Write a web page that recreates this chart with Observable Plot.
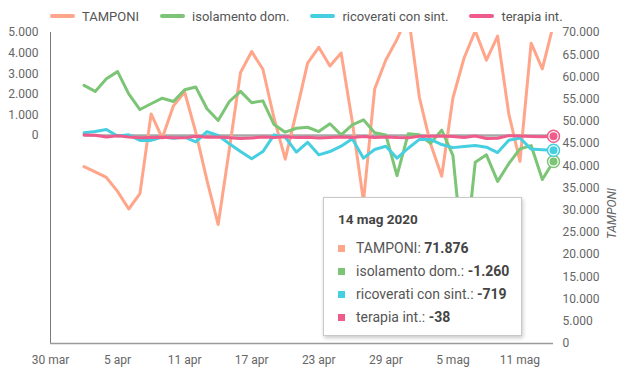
<!DOCTYPE html>
<html><head><meta charset="utf-8">
<script src="https://cdn.jsdelivr.net/npm/d3@7"></script>
<script src="https://cdn.jsdelivr.net/npm/@observablehq/plot@0.6"></script>
<style>
body{margin:0;background:#fff;font-family:Roboto,sans-serif;}
#wrap{position:relative;width:626px;height:380px;overflow:hidden}
#legend{height:16px;padding-top:8px;display:flex;padding-left:50px;gap:21px;align-items:center}
.li{display:flex;align-items:center;font-size:13px;color:#555;height:16px}
.sw{width:25px;height:4px;border-radius:2px;margin-right:7px}
#tip{position:absolute;left:323px;top:197px;width:197px;height:137px;background:#fff;border:1px solid #c9c9c9;box-shadow:1px 2px 4px rgba(0,0,0,0.22);color:#555;font-family:Roboto,sans-serif}
#tip .t{position:absolute;left:14px;top:13px;font-weight:bold;font-size:13.5px;color:#444}
#tip .r{position:absolute;left:14px;display:flex;align-items:center;font-size:14px;height:18px}
#tip .s{width:7px;height:7px;margin-right:11px}
#tip b{color:#444}
</style></head>
<body><div id="wrap"><div id="legend"></div><div id="chart"></div><div id="tip"></div></div>
<script>
const dates = ["2020-04-02","2020-04-03","2020-04-04","2020-04-05","2020-04-06","2020-04-07","2020-04-08","2020-04-09","2020-04-10","2020-04-11",
"2020-04-12","2020-04-13","2020-04-14","2020-04-15","2020-04-16","2020-04-17","2020-04-18","2020-04-19","2020-04-20","2020-04-21",
"2020-04-22","2020-04-23","2020-04-24","2020-04-25","2020-04-26","2020-04-27","2020-04-28","2020-04-29","2020-04-30",
"2020-05-01","2020-05-02","2020-05-03","2020-05-04","2020-05-05","2020-05-06","2020-05-07","2020-05-08","2020-05-09","2020-05-10",
"2020-05-11","2020-05-12","2020-05-13","2020-05-14"];
const tamponi = [39809,38617,37375,34237,30271,33713,51680,46244,53495,56609,
47500,36717,26779,43715,60999,65705,61725,50708,41483,52126,
63101,66658,62447,65387,49916,32003,57272,63827,68456,
74208,55412,44935,37631,55263,64263,70359,63775,69171,51678,
41000,67600,61800,71876];
const isolamento = [2430,2140,2750,3100,2020,1260,1540,1810,1650,2220,
2350,1300,730,1650,2140,1590,1680,530,160,350,
400,190,570,30,520,760,130,30,-1950,
80,30,-380,260,-970,-6400,-1300,-940,-2230,-1370,
-650,-490,-2140,-1260];
const ricoverati = [130,190,290,-30,30,-240,-240,-80,-130,-80,
-310,190,0,-400,-780,-1130,-780,30,-80,-810,
-330,-940,-780,-520,-160,-1100,-680,-520,-1100,
-620,-190,-190,-440,-590,-530,-490,-570,-830,-230,
-120,-660,-690,-719];
const terapia = [18,15,-74,-17,-79,-106,-99,-88,-108,-116,
-38,-83,-74,-107,-143,-124,-79,-98,-62,-102,
-87,-117,-94,-71,-93,-53,-93,-68,-101,
-116,-39,-38,-22,-52,-94,-22,-143,-134,-7,
-28,-47,-59,-38];
const seriesNames = ["TAMPONI","isolamento dom.","ricoverati con sint.","terapia int."];
const seriesColors = ["#ffa68a","#7cc576","#45cfe0","#ef5b8b"];
const leftTicks = [0,1000,2000,3000,4000,5000];
const rightTicks = [0,5000,10000,15000,20000,25000,30000,35000,40000,45000,50000,55000,60000,65000,70000];
const xTickDates = ["2020-03-30","2020-04-05","2020-04-11","2020-04-17","2020-04-23","2020-04-29","2020-05-05","2020-05-11"];
const monthNames = ["gen","feb","mar","apr","mag","giu","lug","ago","set","ott","nov","dic"];
const tooltipTitle = "14 mag 2020";

const loc = d3.formatLocale({decimal:",",thousands:".",grouping:[3],currency:["","€"],minus:"-"});
const fmt = loc.format(",");
const parse = s => new Date(s + "T00:00:00Z");
const L0 = -10100, L1 = 5000, R1 = 70000;
const toLeft = t => L0 + t * (L1 - L0) / R1;
const fromLeft = v => (v - L0) * R1 / (L1 - L0);

const seriesVals = [tamponi.map(toLeft), isolamento, ricoverati, terapia];
const rows = [];
seriesNames.forEach((name, i) => dates.forEach((d, j) => rows.push({name, date: parse(d), v: seriesVals[i][j]})));
const last = dates.length - 1;
const ends = [1,2,3].map(i => ({name: seriesNames[i], date: parse(dates[last]), v: seriesVals[i][last], color: seriesColors[i]}));

const x0 = parse("2020-03-30"), x1 = parse(dates[last]);

// legend
const lg = document.getElementById("legend");
seriesNames.forEach((n, i) => {
  const it = document.createElement("div"); it.className = "li";
  it.innerHTML = `<span class="sw" style="background:${seriesColors[i]}"></span><span>${n}</span>`;
  lg.appendChild(it);
});

const chart = Plot.plot({
  width: 626, height: 356,
  marginTop: 8, marginBottom: 37, marginLeft: 50, marginRight: 73,
  x: {type: "utc", domain: [x0, x1]},
  y: {domain: [L0, L1]},
  color: {domain: seriesNames, range: seriesColors},
  style: {fontFamily: "Roboto, sans-serif", fontSize: "12px", color: "#666", overflow: "visible", background: "transparent"},
  marks: [
    Plot.ruleX([x0], {stroke: "#7a7a7a", strokeWidth: 1}),
    Plot.ruleY([L0], {stroke: "#9a9a9a", strokeWidth: 1.5}),
    Plot.axisY(leftTicks, {anchor: "left", tickSize: 0, tickPadding: 12, tickFormat: fmt, label: null}),
    Plot.axisY(rightTicks.map(toLeft), {anchor: "right", tickSize: 0, tickPadding: 9, tickFormat: d => fmt(Math.round(fromLeft(d))), label: null}),
    Plot.axisX(xTickDates.map(parse), {tickSize: 0, tickPadding: 12, tickFormat: d => `${d.getUTCDate()} ${monthNames[d.getUTCMonth()]}`, label: null}),
    Plot.text(["TAMPONI"], {frameAnchor: "right", rotate: -90, dx: 59, fontStyle: "italic", fill: "#666", fontSize: 12}),
    Plot.ruleY([0], {x1: parse(dates[0]), x2: x1, stroke: "#a8a8a8", strokeWidth: 2.5}),
    Plot.line(rows, {x: "date", y: "v", z: "name", stroke: "name", strokeWidth: 3, clip: true}),
    Plot.dot(ends, {x: "date", y: "v", r: 6, fill: "white", stroke: "color", strokeWidth: 1.5}),
    Plot.dot(ends, {x: "date", y: "v", r: 4, fill: "color"})
  ]
});
document.getElementById("chart").appendChild(chart);

// tooltip
const tip = document.getElementById("tip");
const tipVals = [tamponi[last], isolamento[last], ricoverati[last], terapia[last]];
let html = `<div class="t">${tooltipTitle}</div>`;
seriesNames.forEach((n, i) => {
  html += `<div class="r" style="top:${41 + i * 23}px"><span class="s" style="background:${seriesColors[i]}"></span><span>${n}: <b>${fmt(tipVals[i])}</b></span></div>`;
});
tip.innerHTML = html;
</script></body></html>
